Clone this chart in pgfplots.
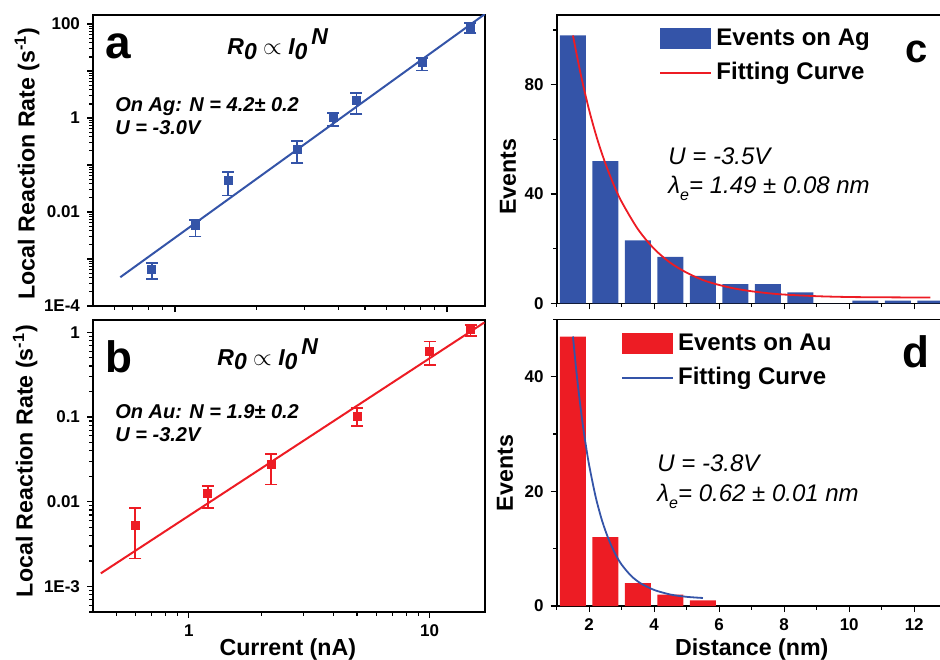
\documentclass[border=0pt]{standalone}
\usepackage{pgfplots}
\pgfplotsset{compat=1.18}
\usepackage{fontspec}
\setmainfont{Liberation Sans}
\definecolor{cblue}{RGB}{52,84,168}
\definecolor{cred}{RGB}{237,28,36}
\pgfplotsset{
  myaxis/.style={
    scale only axis,
    anchor=south west,
    axis line style={line width=0.8pt},
    tick align=outside,
    xtick pos=bottom, ytick pos=left,
    major tick length=3pt, minor tick length=1.8pt,
    every tick/.append style={line width=0.6pt, black},
    tick label style={font=\fontsize{8.5}{10}\selectfont\bfseries},
    label style={font=\fontsize{11.6}{13}\selectfont\bfseries},
  },
  errstyle/.style={only marks, mark=square*, mark size=2pt,
    error bars/.cd, y dir=both, y explicit,
    error bar style={line width=0.9pt},
    error mark options={rotate=90, mark size=3pt, line width=0.9pt}},
}
\begin{document}
\begin{tikzpicture}
% ---------- panel a ----------
\begin{axis}[myaxis, at={(46.5pt,176.5pt)}, width=196pt, height=145.5pt,
  xmode=log, ymode=log, xmin=0.5, xmax=13.8, ymin=1e-4, ymax=156,
  xtick={1,10}, xticklabels={},
  minor xtick={0.6,0.7,0.8,0.9,2,3,4,5,6,7,8,9},
  ytick={1e-4,1e-3,1e-2,0.1,1,10,100}, yticklabels={1E-4,,0.01,,1,,100},
  minor ytick={2e-4,3e-4,4e-4,5e-4,6e-4,7e-4,8e-4,9e-4,
    2e-3,3e-3,4e-3,5e-3,6e-3,7e-3,8e-3,9e-3,
    0.02,0.03,0.04,0.05,0.06,0.07,0.08,0.09,
    0.2,0.3,0.4,0.5,0.6,0.7,0.8,0.9,
    2,3,4,5,6,7,8,9,20,30,40,50,60,70,80,90},
  ylabel={Local Reaction Rate (s\textsuperscript{-1})},
  ylabel style={at={(axis description cs:-0.168,0.49)}, anchor=center},
]
\addplot[cblue, line width=1pt, no marks] coordinates {(0.63,4.1e-4) (13.8,164)};
\addplot[cblue, errstyle] coordinates {
(0.823,6.0e-4) +=(0,2.3e-4) -=(0,2.3e-4)
(1.19,5.2e-3) +=(0,1.7e-3) -=(0,2.2e-3)
(1.57,0.0475) +=(0,0.0225) -=(0,0.0251)
(2.82,0.213) +=(0,0.107) -=(0,0.102)
(3.82,1.05) +=(0,0.23) -=(0,0.36)
(4.65,2.33) +=(0,1.07) -=(0,1.11)
(8.10,15.2) +=(0,3.6) -=(0,4.9)
(12.2,84) +=(0,20) -=(0,20.2)
};
\end{axis}
% ---------- panel b ----------
\begin{axis}[myaxis, at={(46.5pt,23.5pt)}, width=196pt, height=146pt,
  xmode=log, ymode=log, xmin=0.4, xmax=17, ymin=5e-4, ymax=1.4,
  xtick={1,10}, xticklabels={1,10},
  minor xtick={0.5,0.6,0.7,0.8,0.9,2,3,4,5,6,7,8,9},
  ytick={1e-3,1e-2,0.1,1}, yticklabels={1E-3,0.01,0.1,1},
  minor ytick={5e-4,6e-4,7e-4,8e-4,9e-4,
    2e-3,3e-3,4e-3,5e-3,6e-3,7e-3,8e-3,9e-3,
    0.02,0.03,0.04,0.05,0.06,0.07,0.08,0.09,
    0.2,0.3,0.4,0.5,0.6,0.7,0.8,0.9},
  ylabel={Local Reaction Rate (s\textsuperscript{-1})},
  ylabel style={at={(axis description cs:-0.173,0.517)}, anchor=center},
  xlabel={Current (nA)},
  xlabel style={at={(axis description cs:0.497,0)}, anchor=base, yshift=-21.5pt},
]
\addplot[cred, line width=1pt, no marks] coordinates {(0.431,1.43e-3) (16.9,1.31)};
\addplot[cred, errstyle] coordinates {
(0.6,5.3e-3) +=(0,3.2e-3) -=(0,3.16e-3)
(1.2,0.0124) +=(0,0.0031) -=(0,0.0039)
(2.2,0.0276) +=(0,0.0094) -=(0,0.0116)
(5.0,0.103) +=(0,0.026) -=(0,0.025)
(10,0.59) +=(0,0.19) -=(0,0.18)
(14.8,1.07) +=(0,0.16) -=(0,0.17)
};
\end{axis}
% ---------- panel c ----------
\begin{axis}[myaxis, at={(278.35pt,177.85pt)}, width=195pt, height=144.15pt,
  xmin=1, xmax=13, ymin=0, ymax=105.5,
  xtick={2,4,6,8,10,12}, xticklabels={},
  minor xtick={1,3,5,7,9,11,13},
  ytick={0,40,80}, yticklabels={0,40,80}, minor ytick={20,60,100},
  ylabel={Events},
  ylabel style={at={(axis description cs:-0.125,0.44)}, anchor=center},
  legend style={at={(axis cs:4.15,102)}, anchor=north west, draw=none, fill=none,
    inner sep=0pt, row sep=3pt, font=\fontsize{12}{14}\selectfont\bfseries},
  legend cell align=left,
]
\addplot[ybar, bar width=0.8, bar shift=0pt, fill=cblue, draw=none,
  legend image code/.code={\fill[cblue] (0pt,-5.25pt) rectangle (25.5pt,5.25pt);}]
  coordinates {(1.5,98) (2.5,52) (3.5,23) (4.5,17) (5.5,10) (6.5,7) (7.5,7) (8.5,4) (9.5,0) (10.5,1) (11.5,1) (12.5,1)};
\addlegendentry{Events on Ag}
\addplot[cred, line width=0.9pt, no marks, smooth,
  legend image code/.code={\draw[cred, line width=1pt] (0pt,0pt) -- (25.5pt,0pt);}]
  coordinates {(1.5,98) (1.75,83.2) (2.0,70.6) (2.25,60.0) (2.5,51.1) (2.75,43.5) (3.0,37.1) (3.5,27.1) (4.0,19.9) (4.5,14.8) (5.0,11.2) (5.5,8.5) (6.0,6.7) (6.5,5.35) (7.0,4.4) (7.5,3.7) (8.0,3.2) (9.0,2.6) (10.0,2.3) (11.0,2.2) (12.5,2.1)};
\addlegendentry{Fitting Curve}
\end{axis}
% ---------- panel d ----------
\begin{axis}[myaxis, at={(278.35pt,26.5pt)}, width=195pt, height=143.35pt,
  xmin=1, xmax=13, ymin=0, ymax=50,
  xtick={2,4,6,8,10,12}, xticklabels={2,4,6,8,10,12},
  minor xtick={1,3,5,7,9,11,13},
  ytick={0,20,40}, yticklabels={0,20,40}, minor ytick={10,30,50},
  ylabel={Events},
  ylabel style={at={(axis description cs:-0.1326,0.464)}, anchor=center},
  xlabel={Distance (nm)},
  xlabel style={at={(axis description cs:0.50,0)}, anchor=base, yshift=-24.5pt},
  legend style={at={(axis cs:2.97,48.2)}, anchor=north west, draw=none, fill=none,
    inner sep=0pt, row sep=3pt, font=\fontsize{12}{14}\selectfont\bfseries},
  legend cell align=left,
]
\addplot[ybar, bar width=0.8, bar shift=0pt, fill=cred, draw=none,
  legend image code/.code={\fill[cred] (0pt,-5.25pt) rectangle (25.5pt,5.25pt);}]
  coordinates {(1.5,47) (2.5,12) (3.5,4) (4.5,2) (5.5,1)};
\addlegendentry{Events on Au}
\addplot[cblue, line width=0.9pt, no marks, smooth,
  legend image code/.code={\draw[cblue, line width=1pt] (0pt,0pt) -- (25.5pt,0pt);}]
  coordinates {(1.5,47.0) (1.6,41.2) (1.7,36.2) (1.8,31.7) (1.9,27.9) (2.0,24.5) (2.2,19.0) (2.4,14.8) (2.6,11.6) (2.8,9.1) (3.0,7.2) (3.3,5.2) (3.6,3.9) (4.0,2.8) (4.5,2.0) (5.0,1.6) (5.5,1.4)};
\addlegendentry{Fitting Curve}
\end{axis}
% ---------- annotations ----------
\node[anchor=base west, inner sep=0pt, font=\fontsize{23}{23}\selectfont\bfseries] at (52.5pt,300pt) {a};
\node[anchor=base west, inner sep=0pt, font=\fontsize{11.5}{12}\selectfont\bfseries\itshape] at (113.5pt,302pt)
  {R\raisebox{-0.4ex}{0} $\propto$ I\raisebox{-0.4ex}{0}\,\raisebox{0.9ex}{N}};
\node[anchor=base west, inner sep=0pt, font=\fontsize{10}{12}\selectfont\bfseries\itshape] at (57.5pt,273.5pt) {On Ag: N = 4.2± 0.2};
\node[anchor=base west, inner sep=0pt, font=\fontsize{10}{12}\selectfont\bfseries\itshape] at (57.5pt,262pt) {U = -3.0V};
\node[anchor=base west, inner sep=0pt, font=\fontsize{22}{22}\selectfont\bfseries] at (52.5pt,143.5pt) {b};
\node[anchor=base west, inner sep=0pt, font=\fontsize{11.5}{12}\selectfont\bfseries\itshape] at (108.5pt,147pt)
  {R\raisebox{-0.4ex}{0} $\propto$ I\raisebox{-0.4ex}{0}\,\raisebox{0.9ex}{N}};
\node[anchor=base west, inner sep=0pt, font=\fontsize{10}{12}\selectfont\bfseries\itshape] at (57.5pt,120.5pt) {On Au: N = 1.9± 0.2};
\node[anchor=base west, inner sep=0pt, font=\fontsize{10}{12}\selectfont\bfseries\itshape] at (57.5pt,108.65pt) {U = -3.2V};
\node[anchor=base west, inner sep=0pt, font=\fontsize{12}{14}\selectfont\itshape] at (334pt,247pt) {U = -3.5V};
\node[anchor=base west, inner sep=0pt, font=\fontsize{12}{14}\selectfont\itshape] at (334pt,232.5pt)
  {λ\raisebox{-0.5ex}{\fontsize{8}{8}\selectfont e}= 1.49 ± 0.08 nm};
\node[anchor=base west, inner sep=0pt, font=\fontsize{20}{20}\selectfont\bfseries] at (452.5pt,298pt) {c};
\node[anchor=base west, inner sep=0pt, font=\fontsize{12}{14}\selectfont\itshape] at (328.5pt,93.65pt) {U = -3.8V};
\node[anchor=base west, inner sep=0pt, font=\fontsize{12}{14}\selectfont\itshape] at (328.5pt,78.65pt)
  {λ\raisebox{-0.5ex}{\fontsize{8}{8}\selectfont e}= 0.62 ± 0.01 nm};
\node[anchor=base west, inner sep=0pt, font=\fontsize{22}{22}\selectfont\bfseries] at (451pt,146pt) {d};
\pgfresetboundingbox
\path[use as bounding box] (0pt,0pt) rectangle (470pt,329.5pt);
\end{tikzpicture}
\end{document}
